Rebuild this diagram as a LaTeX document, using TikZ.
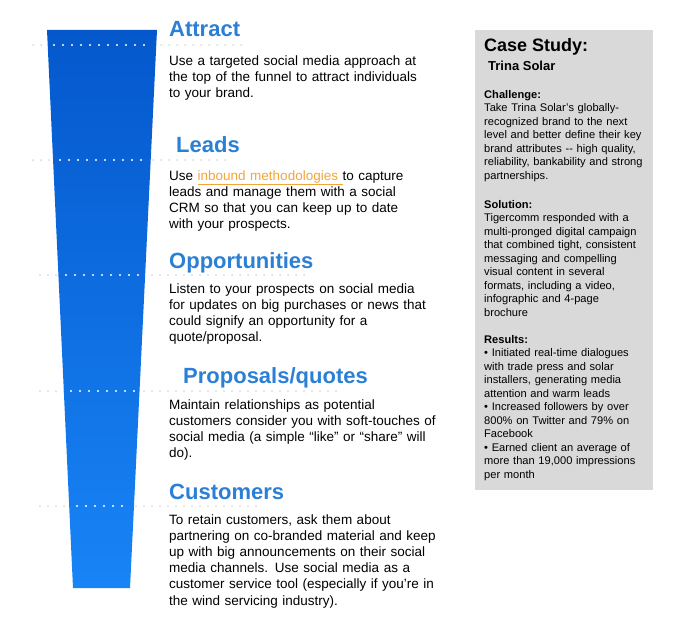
\documentclass[tikz,border=0pt]{standalone}
\usepackage{fontspec}
\setmainfont{Liberation Sans}
\definecolor{headblue}{RGB}{43,128,214}
\definecolor{topblue}{RGB}{4,88,204}
\definecolor{botblue}{RGB}{24,132,246}
\definecolor{linkorange}{RGB}{242,166,58}
\definecolor{boxgray}{RGB}{217,217,217}
\definecolor{dotgray}{RGB}{218,218,218}
\tikzset{
  head/.style={anchor=base west, inner sep=0pt, text=headblue,
    font=\fontsize{22}{26}\selectfont\bfseries},
  body/.style={anchor=base west, inner sep=0pt, text width=330pt, align=left,
    font=\fontsize{13.5}{16.2}\selectfont},
  boxhead/.style={anchor=base west, inner sep=0pt, font=\bfseries},
  boxtxt/.style={anchor=base west, inner sep=0pt, text width=175pt, align=left,
    font=\fontsize{11.1}{13.5}\selectfont},
  graydots/.style={draw=dotgray, line width=2pt, line cap=round, dash pattern=on 0pt off 8pt},
  whitedots/.style={draw=white, line width=2.2pt, line cap=round, dash pattern=on 0pt off 9pt},
}
\begin{document}
\begin{tikzpicture}[x=1pt,y=-1pt]
\useasboundingbox (0,0) rectangle (700,626);
\fill[white] (0,0) rectangle (700,626);
% gray dotted guide lines
\draw[graydots] (33,45) -- (245,45);
\draw[graydots] (33,160) -- (228,160);
\draw[graydots] (40,275) -- (307,275);
\draw[graydots] (40,391) -- (343,391);
\draw[graydots] (40,506) -- (260,506);
% funnel
\shade[top color=topblue, bottom color=botblue]
  (47,30) -- (157,30) -- (130,588) -- (73,588) -- cycle;
% white dots on funnel
\draw[whitedots] (54,45) -- (150,45);
\draw[whitedots] (60,160) -- (145,160);
\draw[whitedots] (66,275) -- (140,275);
\draw[whitedots] (71,391) -- (134,391);
\draw[whitedots] (77,506) -- (130,506);
% headings and bodies
\node[head] (h1) at (169,37) {Attract};
\node[body] (b1) at (169,65) {Use a targeted social media approach at\\the top of the funnel to attract individuals\\to your brand.};
\node[head] (h2) at (176,152) {Leads};
\node[body] (b2) at (169,180) {Use {\color{linkorange}\underline{inbound methodologies }}to capture\\leads and manage them with a social\\CRM so that you can keep up to date\\with your prospects.};
\node[head] (h3) at (169,268) {Opportunities};
\node[body] (b3) at (169,293) {Listen to your prospects on social media\\for updates on big purchases or news that\\could signify an opportunity for a\\quote/proposal.};
\node[head] (h4) at (183,383) {Proposals/quotes};
\node[body] (b4) at (169,409) {Maintain relationships as potential\\customers consider you with soft-touches of\\social media (a simple “like” or “share” will\\do).};
\node[head] (h5) at (169,499) {Customers};
\node[body] (b5) at (169,524) {To retain customers, ask them about\\partnering on co-branded material and keep\\up with big announcements on their social\\media channels. Use social media as a\\customer service tool (especially if you’re in\\the wind servicing industry).};
% case study box
\fill[boxgray] (475,30) rectangle (653,490);
\node[boxhead, font=\fontsize{18}{21}\selectfont\bfseries] (cs) at (484,52) {Case Study:};
\node[boxhead, font=\fontsize{13}{15}\selectfont\bfseries] (ts) at (488,70) {Trina Solar};
\node[boxtxt] (ch) at (484,98) {\textbf{Challenge:}\\Take Trina Solar’s globally-\\recognized brand to the next\\level and better define their key\\brand attributes -{}- high quality,\\reliability, bankability and strong\\partnerships.};
\node[boxtxt] (so) at (484,208) {\textbf{Solution:}\\Tigercomm responded with a\\multi-pronged digital campaign\\that combined tight, consistent\\messaging and compelling\\visual content in several\\formats, including a video,\\infographic and 4-page\\brochure};
\node[boxtxt] (re) at (484,343) {\textbf{Results:}\\• Initiated real-time dialogues\\with trade press and solar\\installers, generating media\\attention and warm leads\\• Increased followers by over\\800\% on Twitter and 79\% on\\Facebook\\• Earned client an average of\\more than 19,000 impressions\\per month};
\end{tikzpicture}
\end{document}
